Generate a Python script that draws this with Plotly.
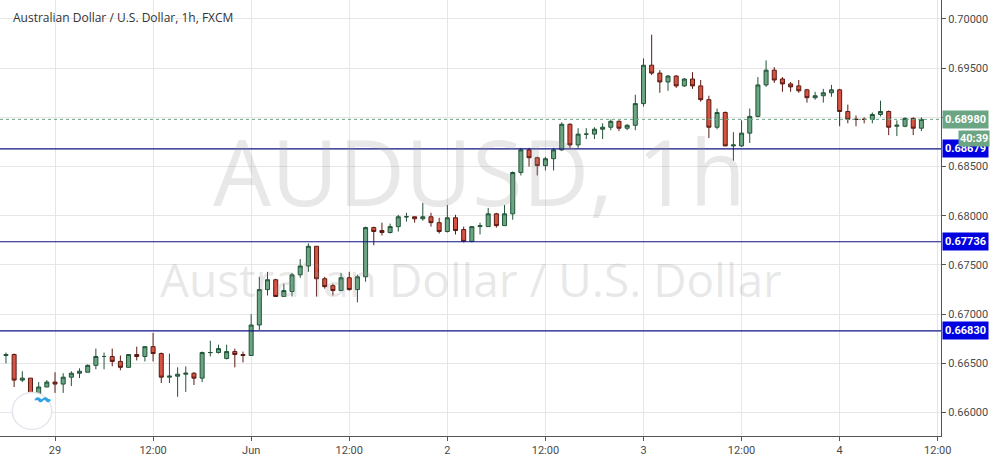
import plotly.graph_objects as go

opens = [6658,6659,6633,6635,6619,6626,6631,6629,6636,6640,6641,6648,6657,6657,6652,6646,6659,6657,6667,6660,
         6636,6637,6639,6640,6635,6661,6661,6655,6662,6659,6658,6689,6725,6735,6718,6723,6740,6749,6769,6736,
         6729,6724,6737,6725,6738,6788,6785,6783,6789,6799,6799,6797,6799,6793,6784,6798,6786,6774,6789,6789,
         6802,6790,6802,6844,6867,6859,6851,6858,6867,6893,6872,6883,6883,6888,6890,6896,6889,6892,6914,6953,
         6945,6936,6942,6932,6939,6932,6918,6890,6905,6871,6871,6884,6901,6933,6948,6939,6934,6932,6928,6920,
         6922,6925,6928,6906,6898,6898,6898,6903,6906,6891,6891,6899,6889]
highs = [6661,6660,6642,6635,6631,6633,6641,6640,6642,6645,6649,6665,6661,6665,6658,6659,6667,6667,6681,6661,
         6660,6646,6647,6641,6662,6673,6669,6669,6665,6662,6700,6738,6743,6736,6731,6742,6756,6772,6769,6738,
         6731,6742,6743,6740,6789,6789,6793,6792,6801,6803,6799,6813,6803,6798,6811,6801,6789,6789,6793,6808,
         6803,6811,6845,6869,6869,6860,6860,6869,6895,6894,6889,6889,6890,6894,6898,6897,6893,6923,6960,6984,
         6948,6943,6943,6940,6946,6938,6922,6909,6906,6885,6897,6909,6941,6958,6951,6941,6936,6938,6929,6926,
         6929,6933,6929,6913,6902,6900,6905,6917,6907,6897,6900,6900,6900]
lows = [6650,6626,6631,6616,6618,6626,6620,6620,6627,6635,6641,6644,6644,6647,6643,6646,6653,6652,6652,6630,
        6630,6616,6621,6628,6631,6657,6660,6654,6646,6651,6658,6684,6719,6718,6718,6718,6737,6743,6718,6726,
        6719,6724,6724,6712,6733,6770,6780,6782,6784,6794,6793,6795,6789,6782,6783,6781,6773,6773,6781,6789,
        6788,6790,6796,6841,6850,6841,6846,6846,6866,6869,6869,6878,6878,6878,6887,6886,6887,6887,6911,6943,
        6925,6927,6930,6931,6929,6916,6879,6888,6871,6856,6870,6874,6900,6931,6935,6926,6926,6925,6915,6918,
        6915,6921,6891,6894,6891,6894,6894,6901,6882,6881,6890,6882,6886]
closes = [6659,6633,6635,6619,6626,6631,6629,6636,6640,6642,6648,6657,6657,6652,6646,6659,6657,6667,6660,6636,
          6637,6639,6640,6635,6661,6661,6665,6662,6659,6658,6689,6725,6735,6718,6724,6740,6749,6769,6736,6728,
          6724,6737,6725,6738,6788,6784,6783,6789,6799,6799,6797,6799,6793,6784,6798,6785,6774,6789,6790,6802,
          6790,6802,6844,6867,6859,6851,6858,6867,6893,6872,6883,6883,6888,6890,6896,6889,6892,6914,6953,6945,
          6936,6942,6932,6939,6932,6918,6890,6905,6871,6872,6884,6901,6933,6948,6938,6934,6931,6927,6920,6922,
          6925,6928,6906,6898,6898,6898,6903,6906,6890,6892,6899,6889,6898]
hours = list(range(-6, -6 + len(opens)))  # trading hours relative to the "29" tick

tick_hours = [0, 12, 24, 36, 48, 60, 72, 84, 96, 108]
tick_labels = ["29", "12:00", "Jun", "12:00", "2", "12:00", "3", "12:00", "4", "12:00"]
price_ticks = [0.66, 0.665, 0.67, 0.675, 0.68, 0.685, 0.69, 0.695, 0.70]
levels = [0.68679, 0.67736, 0.66830]
last_price = 0.68980

sc = lambda a: [v / 10000 for v in a]

fig = go.Figure(go.Candlestick(
    x=hours, open=sc(opens), high=sc(highs), low=sc(lows), close=sc(closes),
    increasing=dict(line=dict(color="#225437", width=1), fillcolor="#6BA583"),
    decreasing=dict(line=dict(color="#5B1A13", width=1), fillcolor="#D75442"),
    whiskerwidth=0, showlegend=False, hoverinfo="skip"))

lab_font = dict(color="white", size=11, family="Roboto")
for lv in levels:
    fig.add_shape(type="line", xref="paper", x0=0, x1=1, y0=lv, y1=lv,
                  line=dict(color="#0F1283", width=1.2), layer="above")
    fig.add_annotation(xref="paper", x=1.0, y=lv, xanchor="left", text=f"<b>{lv:.5f}</b>",
                       showarrow=False, bgcolor="#0000E0", font=lab_font, borderpad=2, xshift=1)
fig.add_shape(type="line", xref="paper", x0=0, x1=1, y0=last_price, y1=last_price,
              line=dict(color="#6BA583", width=1, dash="dot"))
fig.add_annotation(xref="paper", x=1.0, y=last_price, xanchor="left", text=f"<b>{last_price:.5f}</b>",
                   showarrow=False, bgcolor="#6BA583", font=lab_font, borderpad=2, xshift=1)
fig.add_annotation(xref="paper", x=1.0, y=last_price, yshift=-19, xanchor="left", xshift=17,
                   text="<b>40:39</b>", showarrow=False, bgcolor="#6BA583", font=lab_font, borderpad=1)

fig.add_annotation(xref="paper", yref="paper", x=0.51, y=0.61, text="AUDUSD, 1h", showarrow=False,
                   font=dict(size=92, color="rgba(150,150,150,0.22)", family="Open Sans"))
fig.add_annotation(xref="paper", yref="paper", x=0.50, y=0.36, text="Australian Dollar / U.S. Dollar",
                   showarrow=False, font=dict(size=46, color="rgba(150,150,150,0.22)", family="Open Sans"))
fig.add_annotation(xref="paper", yref="paper", x=0.012, y=0.985, xanchor="left", yanchor="top",
                   text="Australian Dollar / U.S. Dollar, 1h, FXCM", showarrow=False,
                   font=dict(size=12, color="#333", family="Open Sans"))
fig.add_shape(type="circle", xref="paper", yref="paper", x0=0.013, x1=0.055, y0=0.015, y1=0.1,
              line=dict(color="#e4e6ee", width=1.5), fillcolor="white")
fig.add_annotation(xref="paper", yref="paper", x=0.034, y=0.06, text="<b>〰</b>", showarrow=False,
                   font=dict(size=15, color="#2fa3e6"))

fig.update_layout(
    width=1004, height=466, margin=dict(l=0, r=63, t=0, b=30),
    paper_bgcolor="white", plot_bgcolor="white",
    xaxis=dict(range=[-6.73, 108.4], tickvals=tick_hours, ticktext=tick_labels, rangeslider=dict(visible=False),
               showgrid=True, gridcolor="#E6E6E6", showline=True, linecolor="#555", ticks="outside",
               ticklen=4, tickcolor="#555", tickfont=dict(size=11, color="#4a4a4a", family="Roboto"),
               zeroline=False),
    yaxis=dict(side="right", range=[0.65762, 0.70193], tickvals=price_ticks, tickformat=".5f",
               showgrid=True, gridcolor="#E6E6E6", showline=True, linecolor="#555", ticks="outside",
               ticklen=4, tickcolor="#555", tickfont=dict(size=11, color="#4a4a4a", family="Roboto"),
               zeroline=False),
)
fig.write_html("out.html", config={"displayModeBar": False})

with open("out.html", encoding="utf-8") as f:
    html = f.read()
html = html.replace("<head>", "<head><style>html,body{margin:0;padding:0;overflow:hidden}</style>", 1)
with open("out.html", "w", encoding="utf-8") as f:
    f.write(html)
